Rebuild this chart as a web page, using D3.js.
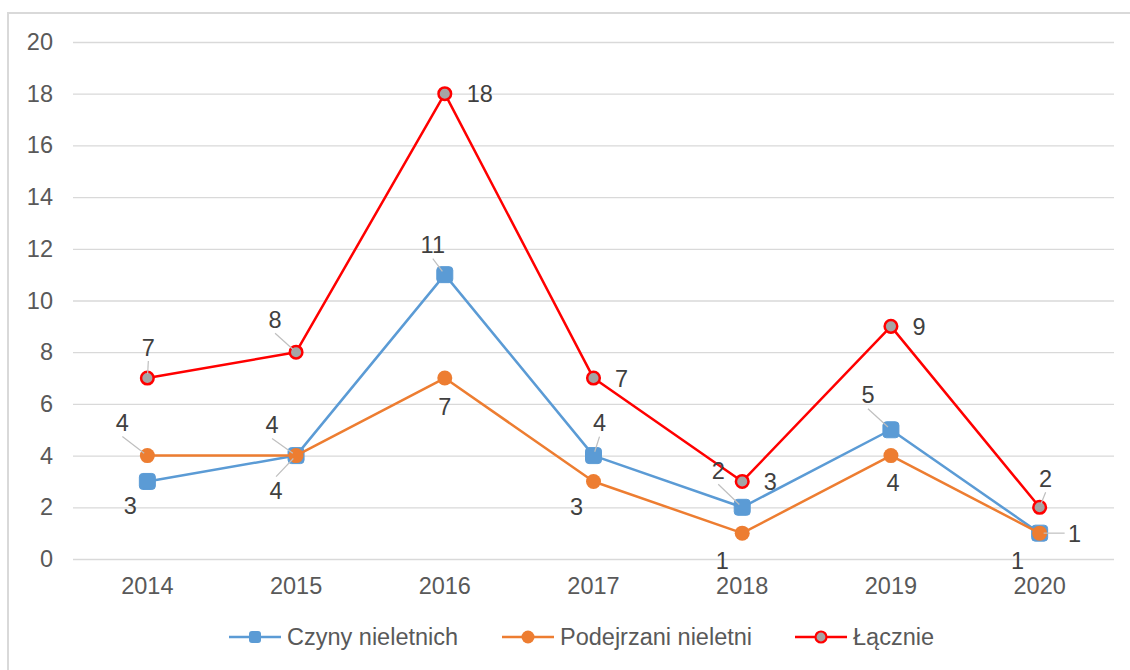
<!DOCTYPE html>
<html><head><meta charset="utf-8">
<script src="https://cdn.jsdelivr.net/npm/d3@7"></script>
<style>
html,body{margin:0;padding:0;background:#fff;}
svg{display:block;font-family:"Liberation Sans",Arial,sans-serif;}
</style></head>
<body>
<svg id="chart" width="1130" height="670"></svg>
<script>
const years = ["2014","2015","2016","2017","2018","2019","2020"];
const czyny = [3,4,11,4,2,5,1];
const podejrzani = [4,4,7,3,1,4,1];
const lacznie = [7,8,18,7,3,9,2];
const yTicks = [0,2,4,6,8,10,12,14,16,18,20];
const seriesNames = ["Czyny nieletnich","Podejrzani nieletni","Łącznie"];

// label placement (layout only): [dx, dy, leader]
const placeCzyny = [[-17,24,0],[-20,35,1],[-12,-30,1],[6,-33,1],[-24,-37,1],[-23,-35,1],[35,0,1]];
const placePodej = [[-25,-33,1],[-24,-31,1],[0,28,0],[-17,25,0],[-20,27,0],[2,27,0],[-22,27,0]];
const placeLacz  = [[1,-31,1],[-21,-33,1],[35,0,0],[28,0,0],[28,0,0],[28,0,0],[6,-29,1]];

(function(){
const svg = d3.select("#chart");
const W = 1130, H = 670;
const pLeft = 73, pRight = 1114, pTop = 42, pBottom = 559;
const FS = 23.5;

// frame
svg.append("rect").attr("x",8).attr("y",13).attr("width",W).attr("height",H)
  .attr("fill","#fff").attr("stroke","#d9d9d9").attr("stroke-width",2);

const x = d3.scaleBand().domain(years).range([pLeft,pRight]);
const y = d3.scaleLinear().domain([0,20]).range([pBottom,pTop]);
const cx = d => x(d) + x.bandwidth()/2;

// gridlines + y labels
const yAxis = d3.axisLeft(y).tickValues(yTicks).tickSize(-(pRight-pLeft)).tickPadding(20);
const gy = svg.append("g").attr("transform",`translate(${pLeft},0)`).call(yAxis);
gy.select(".domain").remove();
gy.selectAll(".tick line").attr("stroke","#d9d9d9").attr("stroke-width",1.3);
gy.selectAll(".tick text").attr("fill","#595959").attr("font-size",FS)
  .attr("font-family","'Liberation Sans',Arial,sans-serif");

// x labels
const xAxis = d3.axisBottom(x).tickSize(0).tickPadding(18);
const gx = svg.append("g").attr("transform",`translate(0,${pBottom})`).call(xAxis);
gx.select(".domain").remove();
gx.selectAll(".tick text").attr("fill","#595959").attr("font-size",FS)
  .attr("font-family","'Liberation Sans',Arial,sans-serif");

const line = d3.line().x((d,i)=>cx(years[i])).y(d=>y(d));

const series = [
  {name:seriesNames[0], values:czyny, color:"#5b9bd5", marker:"square", place:placeCzyny},
  {name:seriesNames[1], values:podejrzani, color:"#ed7d31", marker:"circle", place:placePodej},
  {name:seriesNames[2], values:lacznie, color:"#ff0000", marker:"ring", place:placeLacz}
];

function drawMarker(g, type, color, px, py){
  if(type==="square"){
    g.append("rect").attr("x",px-8).attr("y",py-8).attr("width",16).attr("height",16)
      .attr("rx",3.5).attr("fill",color).attr("stroke",color).attr("stroke-width",1);
  } else if(type==="circle"){
    g.append("circle").attr("cx",px).attr("cy",py).attr("r",7.5).attr("fill",color);
  } else {
    g.append("circle").attr("cx",px).attr("cy",py).attr("r",6.3).attr("fill","#a5a5a5")
      .attr("stroke",color).attr("stroke-width",2.5);
  }
}

const markLayer = svg.append("g");
const leaderLayer = svg.append("g");
const textLayer = svg.append("g");
series.forEach(s=>{
  const g = markLayer.append("g");
  g.append("path").datum(s.values).attr("d",line).attr("fill","none")
    .attr("stroke",s.color).attr("stroke-width",2.5).attr("stroke-linejoin","round");
  s.values.forEach((v,i)=>drawMarker(g,s.marker,s.color,cx(years[i]),y(v)));
  s.values.forEach((v,i)=>{
    const px = cx(years[i]), py = y(v);
    const [dx,dy,lead] = s.place[i];
    const lx = px+dx, ly = py+dy;
    if(lead){
      let sx, sy;
      if(Math.abs(dy) > Math.abs(dx)){ sx = lx; sy = ly + (dy<0 ? 14 : -14); }
      else { sx = lx + (dx<0 ? 10 : -10); sy = ly; }
      const vx = px - sx, vy = py - sy, len = Math.hypot(vx,vy);
      const ex = px - vx/len*4, ey = py - vy/len*4;
      leaderLayer.append("line").attr("x1",sx).attr("y1",sy).attr("x2",ex).attr("y2",ey)
        .attr("stroke","#bfbfbf").attr("stroke-width",1.2);
    }
    textLayer.append("text").attr("x",lx).attr("y",ly).attr("dy","0.36em")
      .attr("text-anchor","middle").attr("font-size",FS).attr("fill","#404040")
      .text(v);
  });
});

// legend
const legend = svg.append("g").attr("transform","translate(0,637)");
const itemX = [229, 502, 795];
series.forEach((s,i)=>{
  const g = legend.append("g").attr("transform",`translate(${itemX[i]},0)`);
  g.append("line").attr("x1",0).attr("x2",52).attr("y1",0).attr("y2",0)
    .attr("stroke",s.color).attr("stroke-width",2.5);
  if(s.marker==="square"){
    g.append("rect").attr("x",20).attr("y",-6).attr("width",12).attr("height",12).attr("rx",3).attr("fill",s.color);
  } else if(s.marker==="circle"){
    g.append("circle").attr("cx",26).attr("cy",0).attr("r",6.5).attr("fill",s.color);
  } else {
    g.append("circle").attr("cx",26).attr("cy",0).attr("r",5.5).attr("fill","#a5a5a5")
      .attr("stroke",s.color).attr("stroke-width",2.2);
  }
  g.append("text").attr("x",58).attr("y",0).attr("dy","0.36em").attr("font-size",FS)
    .attr("fill","#595959").text(s.name);
});
})();
</script>
</body></html>
